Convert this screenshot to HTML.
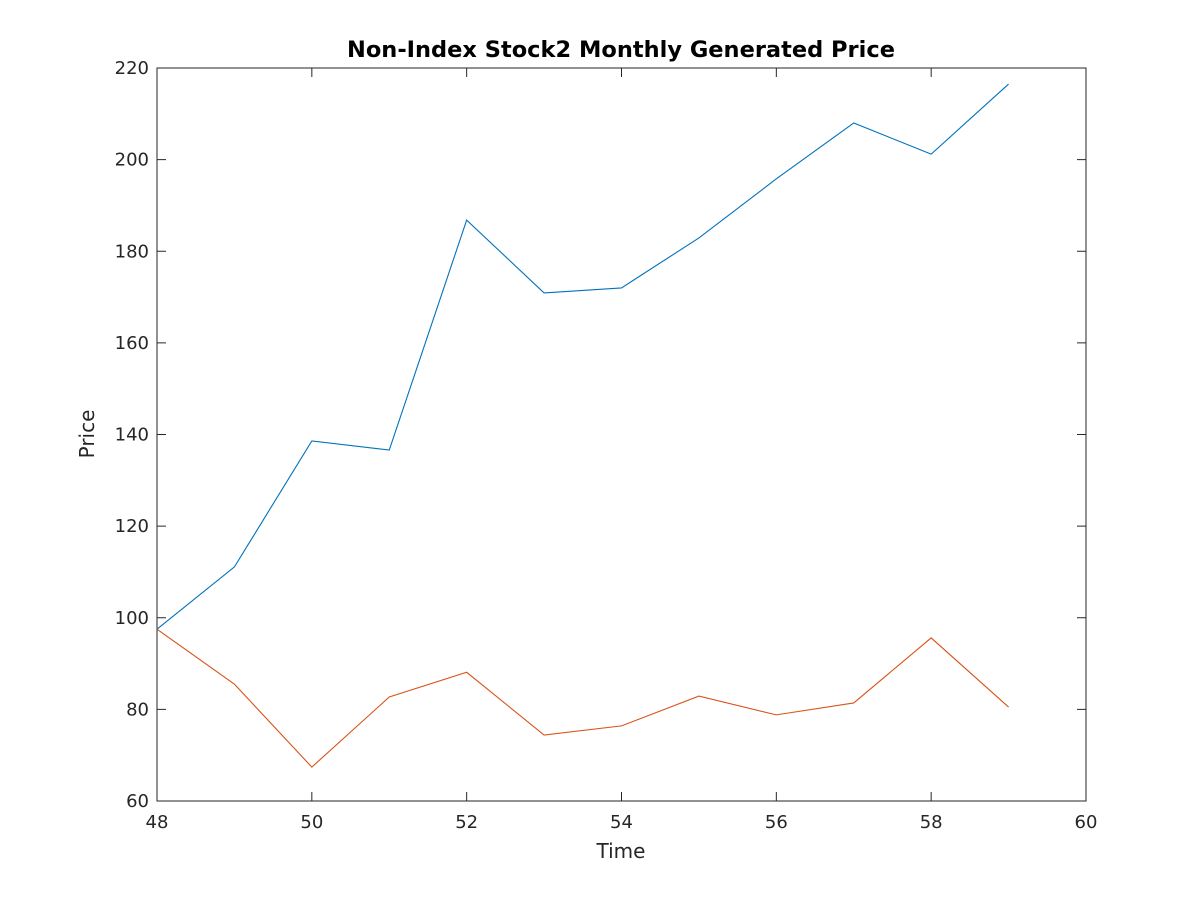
<!DOCTYPE html>
<html><head><meta charset="utf-8"><style>
html,body{margin:0;padding:0;background:#fff;}
svg{display:block;font-family:"DejaVu Sans","Liberation Sans",sans-serif;}
</style></head><body>
<svg id="chart" width="1200" height="900" viewBox="0 0 1200 900">
<rect x="0" y="0" width="1200" height="900" fill="#fff"/>
<rect x="157" y="68" width="929" height="733" fill="#fff" stroke="#262626" stroke-width="1"/>
<text x="621" y="57" text-anchor="middle" font-size="22.5" font-weight="bold" fill="#000">Non-Index Stock2 Monthly Generated Price</text>
<text x="621" y="858" text-anchor="middle" font-size="20" fill="#262626">Time</text>
<text transform="translate(94,434) rotate(-90)" text-anchor="middle" font-size="20" fill="#262626">Price</text>
<g id="ticks"></g>
<g id="series"></g>
</svg>
<script>
const xCategories = [48,49,50,51,52,53,54,55,56,57,58,59];
const stockA = [97.5,111.1,138.6,136.6,186.8,170.9,172.0,182.9,195.8,208.0,201.2,216.5];
const stockB = [97.5,85.5,67.4,82.7,88.1,74.4,76.4,82.9,78.8,81.4,95.6,80.5];
const xTickLabels = [48,50,52,54,56,58,60];
const yTickLabels = [60,80,100,120,140,160,180,200,220];

const L=157,R=1086,T=68,B=801;
const xs=v=>L+(v-48)/12*(R-L);
const ys=v=>B-(v-60)/160*(B-T);
const NS="http://www.w3.org/2000/svg";
const tg=document.getElementById('ticks');
const sg=document.getElementById('series');
function mk(tag,attrs,parent){const e=document.createElementNS(NS,tag);for(const k in attrs)e.setAttribute(k,attrs[k]);parent.appendChild(e);return e;}
xTickLabels.forEach(v=>{
  const x=xs(v);
  const t1=mk('line',{x1:x,x2:x,y1:B,y2:B-9,stroke:'#262626'},tg);
  
  
  const t2=mk('line',{x1:x,x2:x,y1:T,y2:T+9,stroke:'#262626'},tg);
  
  
  const tx=mk('text',{x:x,y:B+27,'text-anchor':'middle','font-size':18,fill:'#262626'},tg);
  tx.textContent=v;
  
  
});
yTickLabels.forEach(v=>{
  const y=ys(v);
  const t1=mk('line',{x1:L,x2:L+9,y1:y,y2:y,stroke:'#262626'},tg);
  
  
  const t2=mk('line',{x1:R,x2:R-9,y1:y,y2:y,stroke:'#262626'},tg);
  
  
  const tx=mk('text',{x:L-8,y:y+6,'text-anchor':'end','font-size':18,fill:'#262626'},tg);
  tx.textContent=v;
  
  
});
function line(vals,color,name){
  const d=vals.map((v,i)=>(i?'L':'M')+xs(xCategories[i])+','+ys(v)).join(' ');
  const p=mk('path',{d:d,fill:'none',stroke:color,'stroke-width':1.1},sg);
  
  
}
line(stockA,'#0072bd','series-line-stock-a');
line(stockB,'#d95319','series-line-stock-b');
</script>
</body></html>
